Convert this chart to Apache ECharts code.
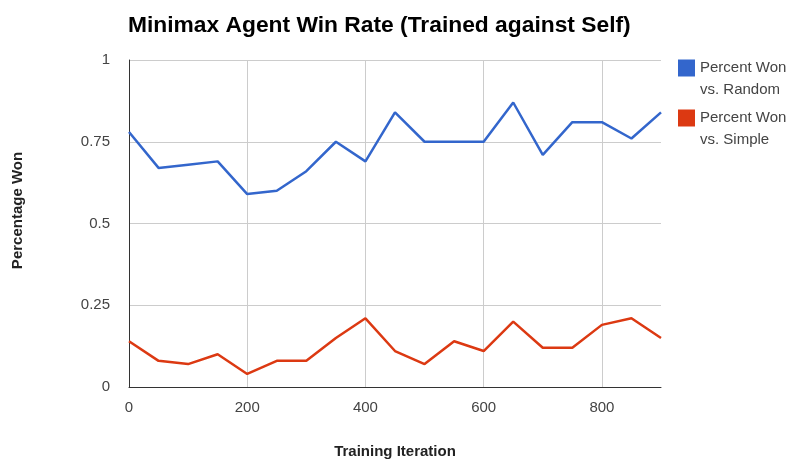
<!DOCTYPE html>
<html><head><meta charset="utf-8">
<script src="https://cdn.jsdelivr.net/npm/echarts@6/dist/echarts.min.js"></script>
<style>html,body{margin:0;padding:0;background:#fff}#c{width:804px;height:464px}</style>
</head><body><div id="c"></div>
<script>
var iterations = [0,50,100,150,200,250,300,350,400,450,500,550,600,650,700,750,800,850,900];
var vsRandom = [0.78,0.67,0.68,0.69,0.59,0.60,0.66,0.75,0.69,0.84,0.75,0.75,0.75,0.87,0.71,0.81,0.81,0.76,0.84];
var vsSimple = [0.14,0.08,0.07,0.10,0.04,0.08,0.08,0.15,0.21,0.11,0.07,0.14,0.11,0.20,0.12,0.12,0.19,0.21,0.15];
var seriesNames = ['Percent Won vs. Random','Percent Won vs. Simple'];
var yTicks = [0,0.25,0.5,0.75,1];

function pairs(xs, ys){ return xs.map(function(x,i){return [x, ys[i]];}); }
var chart = echarts.init(document.getElementById('c'));
var font = '"Liberation Sans", Arial, sans-serif';
chart.setOption({
  animation:false,
  backgroundColor:'#fff',
  title:{text:'Minimax Agent Win Rate (Trained against Self)', left:123, top:9,
    textStyle:{fontFamily:font, fontSize:22.8, fontWeight:'bold', color:'#000'}},
  legend:{orient:'vertical', left:673, top:30, itemWidth:17, itemHeight:17, itemGap:-16,
    icon:'rect', padding:5,
    formatter:function(n){return '\n' + n.replace(' vs.','\nvs.');},
    textStyle:{fontFamily:font, fontSize:15, color:'#444', lineHeight:22},
    data:seriesNames},
  grid:{left:129, right:143, top:60, bottom:77, outerBoundsMode:'none', containLabel:false},
  xAxis:{type:'value', min:0, max:900, interval:200,
    name:'Training Iteration', nameLocation:'middle', nameGap:57,
    nameTextStyle:{fontFamily:font, fontSize:15, fontWeight:'bold', color:'#222'},
    axisLine:{lineStyle:{color:'#333', width:1}},
    axisTick:{show:false},
    axisLabel:{fontFamily:font, fontSize:15, color:'#444', margin:13, showMaxLabel:false,
      formatter:function(v){return v===900?'':String(v);}},
    splitLine:{show:true, showMaxLine:false, lineStyle:{color:'#ccc'}}},
  yAxis:{type:'value', min:0, max:1, interval:0.25,
    name:'Percentage Won', nameLocation:'middle', nameGap:104,
    nameTextStyle:{fontFamily:font, fontSize:15, fontWeight:'bold', color:'#222', padding:[0,0,0,26]},
    axisLine:{show:true, lineStyle:{color:'#333', width:1}},
    axisTick:{show:false},
    axisLabel:{fontFamily:font, fontSize:15, color:'#444', margin:19,
      formatter:function(v){return yTicks.indexOf(v)>=0?String(v):'';}},
    splitLine:{show:true, lineStyle:{color:'#ccc'}}},
  series:[
    {name:seriesNames[0], type:'line', data:pairs(iterations, vsRandom), showSymbol:false,
      color:'#3366cc', lineStyle:{width:2.5, color:'#3366cc'}},
    {name:seriesNames[1], type:'line', data:pairs(iterations, vsSimple), showSymbol:false,
      color:'#dc3912', lineStyle:{width:2.5, color:'#dc3912'}}
  ]
});
</script></body></html>
